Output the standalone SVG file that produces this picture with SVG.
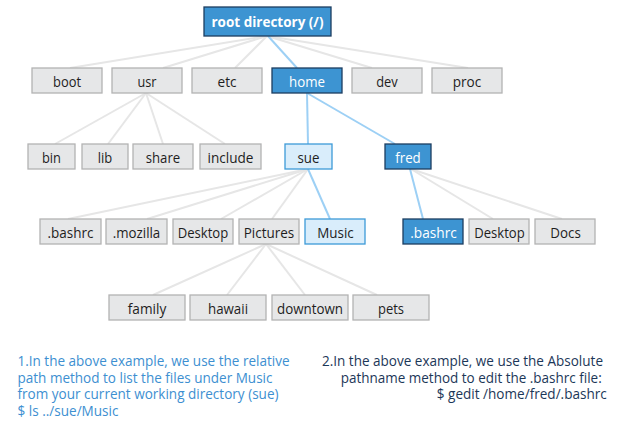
<svg xmlns="http://www.w3.org/2000/svg" width="619" height="438" viewBox="0 0 619 438">
  <style>
    .box { fill: #e6e7e8; stroke: #b3b3b3; stroke-width: 1.3; }
    .sel { fill: #3d94d2; stroke: #1c3d60; stroke-width: 1.3; }
    .cur { fill: #d9edfb; stroke: #3d9ad8; stroke-width: 1.3; }
    .lbl { font-family: "Open Sans", "Noto Sans", sans-serif; font-size: 15px; fill: #1e1e1e; text-anchor: middle; }
    .lbl.w { fill: #ffffff; }
    .root { font-weight: bold; }
    .edge { stroke: #e6e6e6; stroke-width: 2; fill: none; }
    .path { stroke: #9dd0f5; stroke-width: 2; fill: none; }
    .note { font-family: "Open Sans", "Noto Sans", sans-serif; font-size: 14px; }
    .rel { fill: #3d8fd1; }
    .abs { fill: #1c3758; }
  </style>
  <rect width="619" height="438" fill="#ffffff"/>

  <!-- connectors -->
  <g id="connectors">
    <line class="edge" x1="267" y1="36" x2="70" y2="68"/>
    <line class="edge" x1="267" y1="36" x2="163" y2="68"/>
    <line class="edge" x1="267" y1="36" x2="235" y2="68"/>
    <line class="edge" x1="267" y1="36" x2="372" y2="68"/>
    <line class="edge" x1="267" y1="36" x2="468" y2="68"/>
    <line class="edge" x1="146" y1="93" x2="55" y2="144"/>
    <line class="edge" x1="146" y1="93" x2="108" y2="144"/>
    <line class="edge" x1="146" y1="93" x2="163" y2="144"/>
    <line class="edge" x1="146" y1="93" x2="225" y2="144"/>
    <line class="edge" x1="308" y1="169" x2="68" y2="219"/>
    <line class="edge" x1="308" y1="169" x2="147" y2="219"/>
    <line class="edge" x1="308" y1="169" x2="221" y2="219"/>
    <line class="edge" x1="308" y1="169" x2="272" y2="219"/>
    <line class="edge" x1="266" y1="244" x2="153" y2="295"/>
    <line class="edge" x1="266" y1="244" x2="227" y2="295"/>
    <line class="edge" x1="266" y1="244" x2="305" y2="295"/>
    <line class="edge" x1="266" y1="244" x2="377" y2="295"/>
    <line class="edge" x1="411" y1="169" x2="493" y2="219"/>
    <line class="edge" x1="411" y1="169" x2="562" y2="219"/>
    <!-- highlighted paths -->
    <line class="path" x1="268" y1="36" x2="297" y2="68"/>
    <line class="path" x1="307" y1="93" x2="308" y2="144"/>
    <line class="path" x1="307" y1="93" x2="395" y2="144"/>
    <line class="path" x1="308" y1="169" x2="330" y2="219"/>
    <line class="path" x1="410" y1="169" x2="423" y2="219"/>
  </g>

  <!-- root -->
  <g id="root"><rect class="sel" x="204" y="7" width="127" height="29"/><text class="lbl w root" x="267.5" y="27" textLength="112" lengthAdjust="spacingAndGlyphs">root directory (/)</text></g>

  <!-- level 1 -->
  <g id="boot"><rect class="box" x="32" y="68" width="70" height="25"/><text class="lbl" x="67" y="87" textLength="28" lengthAdjust="spacingAndGlyphs">boot</text></g>
  <g id="usr"><rect class="box" x="112" y="68" width="70" height="25"/><text class="lbl" x="147" y="87" textLength="19" lengthAdjust="spacingAndGlyphs">usr</text></g>
  <g id="etc"><rect class="box" x="192" y="68" width="70" height="25"/><text class="lbl" x="227" y="87" textLength="19" lengthAdjust="spacingAndGlyphs">etc</text></g>
  <g id="home"><rect class="sel" x="272" y="68" width="70" height="25"/><text class="lbl w" x="307" y="87" textLength="36" lengthAdjust="spacingAndGlyphs">home</text></g>
  <g id="dev"><rect class="box" x="352" y="68" width="70" height="25"/><text class="lbl" x="387" y="87" textLength="21.5" lengthAdjust="spacingAndGlyphs">dev</text></g>
  <g id="proc"><rect class="box" x="432" y="68" width="70" height="25"/><text class="lbl" x="467" y="87" textLength="28.5" lengthAdjust="spacingAndGlyphs">proc</text></g>

  <!-- level 2 -->
  <g id="bin"><rect class="box" x="28" y="144" width="47" height="25"/><text class="lbl" x="51.5" y="163" textLength="19" lengthAdjust="spacingAndGlyphs">bin</text></g>
  <g id="lib"><rect class="box" x="82" y="144" width="46" height="25"/><text class="lbl" x="105" y="163" textLength="14.5" lengthAdjust="spacingAndGlyphs">lib</text></g>
  <g id="share"><rect class="box" x="133" y="144" width="60" height="25"/><text class="lbl" x="163" y="163" textLength="34.5" lengthAdjust="spacingAndGlyphs">share</text></g>
  <g id="include"><rect class="box" x="200" y="144" width="61" height="25"/><text class="lbl" x="230.5" y="163" textLength="46" lengthAdjust="spacingAndGlyphs">include</text></g>
  <g id="sue"><rect class="cur" x="285" y="144" width="47" height="25"/><text class="lbl" x="308.5" y="163" textLength="22" lengthAdjust="spacingAndGlyphs">sue</text></g>
  <g id="fred"><rect class="sel" x="385" y="144" width="46" height="25"/><text class="lbl w" x="408" y="163" textLength="25.5" lengthAdjust="spacingAndGlyphs">fred</text></g>

  <!-- level 3 -->
  <g id="sue-bashrc"><rect class="box" x="40" y="219" width="61" height="25"/><text class="lbl" x="70.5" y="238" textLength="46" lengthAdjust="spacingAndGlyphs">.bashrc</text></g>
  <g id="sue-mozilla"><rect class="box" x="106" y="219" width="61" height="25"/><text class="lbl" x="136.5" y="238" textLength="47.5" lengthAdjust="spacingAndGlyphs">.mozilla</text></g>
  <g id="sue-desktop"><rect class="box" x="173" y="219" width="60" height="25"/><text class="lbl" x="203" y="238" textLength="50.5" lengthAdjust="spacingAndGlyphs">Desktop</text></g>
  <g id="sue-pictures"><rect class="box" x="239" y="219" width="60" height="25"/><text class="lbl" x="269" y="238" textLength="50.5" lengthAdjust="spacingAndGlyphs">Pictures</text></g>
  <g id="sue-music"><rect class="cur" x="305" y="219" width="60" height="25"/><text class="lbl" x="335.5" y="238" textLength="36.5" lengthAdjust="spacingAndGlyphs">Music</text></g>
  <g id="fred-bashrc"><rect class="sel" x="403" y="219" width="60" height="25"/><text class="lbl w" x="433.5" y="238" textLength="46.5" lengthAdjust="spacingAndGlyphs">.bashrc</text></g>
  <g id="fred-desktop"><rect class="box" x="469" y="219" width="60" height="25"/><text class="lbl" x="499.5" y="238" textLength="50.5" lengthAdjust="spacingAndGlyphs">Desktop</text></g>
  <g id="fred-docs"><rect class="box" x="535" y="219" width="60" height="25"/><text class="lbl" x="565.5" y="238" textLength="30.5" lengthAdjust="spacingAndGlyphs">Docs</text></g>

  <!-- level 4 -->
  <g id="family"><rect class="box" x="109" y="295" width="76" height="25"/><text class="lbl" x="147" y="314" textLength="38.5" lengthAdjust="spacingAndGlyphs">family</text></g>
  <g id="hawaii"><rect class="box" x="190" y="295" width="76" height="25"/><text class="lbl" x="228" y="314" textLength="40" lengthAdjust="spacingAndGlyphs">hawaii</text></g>
  <g id="downtown"><rect class="box" x="272" y="295" width="76" height="25"/><text class="lbl" x="310" y="314" textLength="66" lengthAdjust="spacingAndGlyphs">downtown</text></g>
  <g id="pets"><rect class="box" x="353" y="295" width="76" height="25"/><text class="lbl" x="391" y="314" textLength="26" lengthAdjust="spacingAndGlyphs">pets</text></g>

  <!-- notes -->
  <g id="note-relative" class="note rel">
    <text x="17.5" y="366" textLength="272" lengthAdjust="spacingAndGlyphs">1.In the above example, we use the relative</text>
    <text x="17.5" y="382.7" textLength="255" lengthAdjust="spacingAndGlyphs">path method to list the files under Music</text>
    <text x="17.5" y="399.3" textLength="261" lengthAdjust="spacingAndGlyphs">from your current working directory (sue)</text>
    <text x="17.5" y="416" textLength="101" lengthAdjust="spacingAndGlyphs">$ ls ../sue/Music</text>
  </g>
  <g id="note-absolute" class="note abs">
    <text x="322" y="366" textLength="281" lengthAdjust="spacingAndGlyphs">2.In the above example, we use the Absolute</text>
    <text x="340.7" y="382.7" textLength="261" lengthAdjust="spacingAndGlyphs">pathname method to edit the .bashrc file:</text>
    <text x="436.8" y="399.3" textLength="170" lengthAdjust="spacingAndGlyphs">$ gedit /home/fred/.bashrc</text>
  </g>
</svg>
